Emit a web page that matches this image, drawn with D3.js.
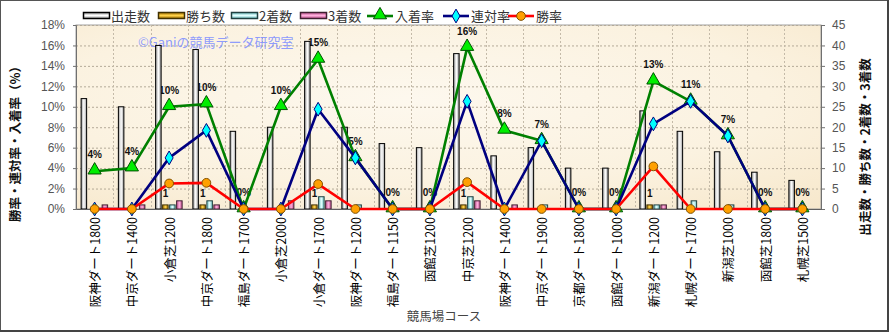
<!DOCTYPE html>
<html>
<head>
<meta charset="utf-8">
<script src="https://cdn.jsdelivr.net/npm/d3@7"></script>
<style>
  html, body { margin: 0; padding: 0; background: #fff; }
  svg { display: block; }
  text { font-family: "Liberation Sans", "Noto Sans CJK JP", sans-serif; }
  .jp { font-family: "Noto Sans CJK JP", "Liberation Sans", sans-serif; }
</style>
</head>
<body>
<svg id="chart" width="889" height="332"></svg>
<script>
// Course names
const categories = [
  "阪神ダート1800", "中京ダート1400", "小倉芝1200", "中京ダート1800", "福島ダート1700",
  "小倉芝2000", "小倉ダート1700", "阪神ダート1200", "福島ダート1150", "函館芝1200",
  "中京芝1200", "阪神ダート1400", "中京ダート1900", "京都ダート1800", "函館ダート1000",
  "新潟ダート1200", "札幌ダート1700", "新潟芝1000", "函館芝1800", "札幌芝1500"
];
// Counts (right axis)
const starts  = [27, 25, 40, 39, 19, 20, 41, 20, 16, 15, 38, 13, 15, 10, 10, 24, 19, 14, 9, 7];
const wins    = [0, 0, 1, 1, 0, 0, 1, 0, 0, 0, 1, 0, 0, 0, 0, 1, 0, 0, 0, 0];
const seconds = [0, 0, 1, 2, 0, 0, 3, 1, 0, 0, 3, 0, 1, 0, 0, 1, 2, 1, 0, 0];
const thirds  = [1, 1, 2, 1, 0, 2, 2, 0, 0, 0, 2, 1, 0, 0, 0, 1, 0, 0, 0, 0];
// Rates in % (left axis)
const placeRate    = [3.7, 4, 10, 10.26, 0, 10, 14.63, 5, 0, 0, 15.79, 7.69, 6.67, 0, 0, 12.5, 10.53, 7.14, 0, 0];
const quinellaRate = [0, 0, 5, 7.69, 0, 0, 9.76, 5, 0, 0, 10.53, 0, 6.67, 0, 0, 8.33, 10.53, 7.14, 0, 0];
const winRate      = [0, 0, 2.5, 2.56, 0, 0, 2.44, 0, 0, 0, 2.63, 0, 0, 0, 0, 4.17, 0, 0, 0, 0];
// Axis ticks
const pctTicks = [0, 2, 4, 6, 8, 10, 12, 14, 16, 18];
const cntTicks = [0, 5, 10, 15, 20, 25, 30, 35, 40, 45];

const svg = d3.select("#chart");
const L = 76, R = 821, T = 25, B = 209;

const x = d3.scaleBand().domain(categories).range([L, R]).paddingInner(0).paddingOuter(0);
const yPct = d3.scaleLinear().domain([0, 18]).range([B, T]);
const yCnt = d3.scaleLinear().domain([0, 45]).range([B, T]);

const defs = svg.append("defs");

// Parchment-like plot background
const bg = defs.append("radialGradient").attr("id", "paper").attr("cx", "45%").attr("cy", "40%").attr("r", "80%");
bg.append("stop").attr("offset", "0%").attr("stop-color", "#fdf8ee");
bg.append("stop").attr("offset", "60%").attr("stop-color", "#fbf2e0");
bg.append("stop").attr("offset", "100%").attr("stop-color", "#f7e8cc");

function barGrad(id, edge, mid) {
  const g = defs.append("linearGradient").attr("id", id).attr("x1", "0%").attr("x2", "100%");
  g.append("stop").attr("offset", "0%").attr("stop-color", edge);
  g.append("stop").attr("offset", "50%").attr("stop-color", mid);
  g.append("stop").attr("offset", "100%").attr("stop-color", edge);
}
barGrad("gStart", "#9a9a9a", "#ffffff");
barGrad("gWin", "#a07000", "#ffd24a");
barGrad("gSecond", "#6cc0c0", "#e4ffff");
barGrad("gThird", "#c05090", "#ffb0dc");

// Outer frame
svg.append("rect").attr("x", 0.5).attr("y", 0.5).attr("width", 887).attr("height", 330)
  .attr("fill", "#fff").attr("stroke", "#555").attr("stroke-width", 1);
svg.append("line").attr("x1", 0).attr("x2", 889).attr("y1", 331).attr("y2", 331).attr("stroke", "#444").attr("stroke-width", 2);
svg.append("line").attr("x1", 888).attr("x2", 888).attr("y1", 0).attr("y2", 332).attr("stroke", "#444").attr("stroke-width", 2);

// Plot area
svg.append("rect").attr("x", L).attr("y", T).attr("width", R - L).attr("height", B - T)
  .attr("fill", "url(#paper)").attr("stroke", "#a0a0a0");

// Grid lines
svg.append("g").selectAll("line").data(pctTicks.slice(1)).join("line")
  .attr("x1", L).attr("x2", R).attr("y1", d => yPct(d) + 0.5).attr("y2", d => yPct(d) + 0.5)
  .attr("stroke", "#b4aa98").attr("stroke-dasharray", "2,2");
svg.append("g").selectAll("line").data(categories.slice(1)).join("line")
  .attr("x1", d => Math.round(x(d)) + 0.5).attr("x2", d => Math.round(x(d)) + 0.5)
  .attr("y1", T).attr("y2", B)
  .attr("stroke", "#c4baa8").attr("stroke-dasharray", "2,2");

// Watermark
svg.append("text").attr("class", "jp").attr("x", 138).attr("y", 47)
  .attr("font-size", 13).attr("fill", "#8090ff").attr("fill-opacity", 0.9)
  .text("©Ganiの競馬データ研究室");

// Place-rate labels (drawn under the bars)
const fmtPct = d3.format(".0f");
svg.append("g").selectAll("text").data(placeRate).join("text")
  .attr("x", (d, i) => x(categories[i]) + x.bandwidth() / 2)
  .attr("y", d => yPct(d) - 13)
  .attr("text-anchor", "middle").attr("font-size", 10).attr("font-weight", "bold")
  .attr("fill", "#111")
  .text(d => fmtPct(d) + "%");

// Win-count labels
svg.append("g").selectAll("text").data(wins.map((v, i) => ({ v, i })).filter(d => d.v > 0)).join("text")
  .attr("x", d => x(categories[d.i]) + x.bandwidth() / 2 - 3.5)
  .attr("y", d => yCnt(d.v) - 8)
  .attr("text-anchor", "middle").attr("font-size", 10).attr("font-weight", "bold").attr("fill", "#111")
  .text(d => d.v);

// Bars
const barW = 7;
const countSeries = [
  { values: starts, fill: "url(#gStart)", stroke: "#000" },
  { values: wins, fill: "url(#gWin)", stroke: "#403000" },
  { values: seconds, fill: "url(#gSecond)", stroke: "#204040" },
  { values: thirds, fill: "url(#gThird)", stroke: "#402030" }
];
const groupW = barW * countSeries.length;
countSeries.forEach((s, k) => {
  svg.append("g").selectAll("rect")
    .data(s.values.map((v, i) => ({ v, i })).filter(d => d.v > 0)).join("rect")
    .attr("x", d => x(categories[d.i]) + (x.bandwidth() - groupW) / 2 + k * barW + 0.5)
    .attr("y", d => yCnt(d.v))
    .attr("width", barW - 1.5)
    .attr("height", d => B - yCnt(d.v))
    .attr("fill", s.fill).attr("stroke", s.stroke).attr("stroke-width", 1);
});

// Axes
const leftAxis = d3.axisLeft(yPct).tickValues(pctTicks).tickFormat(d => d + "%").tickSize(3).tickPadding(8);
const gl = svg.append("g").attr("transform", `translate(${L},0)`).call(leftAxis);
const rightAxis = d3.axisRight(yCnt).tickValues(cntTicks).tickSize(4).tickPadding(7);
const gr = svg.append("g").attr("transform", `translate(${R},0)`).call(rightAxis);
[gl, gr].forEach(g => {
  g.select(".domain").attr("stroke", "#707070");
  g.selectAll(".tick line").attr("stroke", "#707070");
  g.selectAll(".tick text").attr("font-size", 12).attr("fill", "#555")
    .attr("font-family", "'Liberation Sans', sans-serif");
});
const bottomAxis = d3.axisBottom(x).tickSize(0).tickPadding(0);
const gb = svg.append("g").attr("transform", `translate(0,${B})`).call(bottomAxis);
gb.select(".domain").attr("stroke", "#606060");
gb.selectAll(".tick text")
  .attr("class", "jp")
  .attr("font-size", 12.5).attr("fill", "#000")
  .attr("transform", "rotate(-90)")
  .attr("text-anchor", "end").attr("dominant-baseline", "central")
  .attr("x", -8).attr("y", 0).attr("dy", null);

// Rate lines
const rateSeries = [
  { values: placeRate, color: "#008000", marker: "triangle", fill: "#00ee00", mstroke: "#005000" },
  { values: quinellaRate, color: "#000080", marker: "diamond", fill: "#00ffff", mstroke: "#000080" },
  { values: winRate, color: "#ff0000", marker: "circle", fill: "#ffa000", mstroke: "#805000" }
];
const symbolOf = { triangle: d3.symbolTriangle, diamond: d3.symbolDiamond, circle: d3.symbolCircle };
const sizeOf = { triangle: 75, diamond: 55, circle: 60 };
rateSeries.forEach(s => {
  const line = d3.line()
    .x((d, i) => x(categories[i]) + x.bandwidth() / 2)
    .y(d => yPct(d));
  svg.append("path").datum(s.values).attr("d", line)
    .attr("fill", "none").attr("stroke", s.color).attr("stroke-width", 2.6)
    .attr("stroke-linejoin", "round");
  svg.append("g").selectAll("path").data(s.values).join("path")
    .attr("transform", (d, i) => `translate(${x(categories[i]) + x.bandwidth() / 2},${yPct(d) + (s.marker === "triangle" ? -1 : 0)})`)
    .attr("d", d3.symbol().type(symbolOf[s.marker]).size(sizeOf[s.marker]))
    .attr("fill", s.fill).attr("stroke", s.mstroke).attr("stroke-width", 1);
});

// Axis titles
svg.append("text").attr("class", "jp")
  .attr("transform", "translate(20,141) rotate(-90)")
  .attr("text-anchor", "middle").attr("font-size", 12.5).attr("font-weight", "bold").attr("fill", "#111")
  .text("勝率・連対率・入着率（%）");
svg.append("text").attr("class", "jp")
  .attr("transform", "translate(870,147) rotate(-90)")
  .attr("text-anchor", "middle").attr("font-size", 12.5).attr("font-weight", "bold").attr("fill", "#111")
  .text("出走数・勝ち数・2着数・3着数");
svg.append("text").attr("class", "jp")
  .attr("x", 444).attr("y", 321).attr("text-anchor", "middle")
  .attr("font-size", 12.5).attr("fill", "#444")
  .text("競馬場コース");

// Legend
const legend = [
  { label: "出走数", type: "bar", fill: "url(#gStart)", stroke: "#000", x: 83 },
  { label: "勝ち数", type: "bar", fill: "url(#gWin)", stroke: "#403000", x: 158 },
  { label: "2着数", type: "bar", fill: "url(#gSecond)", stroke: "#204040", x: 231 },
  { label: "3着数", type: "bar", fill: "url(#gThird)", stroke: "#402030", x: 300 },
  { label: "入着率", type: "line", s: rateSeries[0], x: 367 },
  { label: "連対率", type: "line", s: rateSeries[1], x: 443 },
  { label: "勝率", type: "line", s: rateSeries[2], x: 508 }
];
const lg = svg.append("g");
legend.forEach(d => {
  const yc = 16;
  if (d.type === "bar") {
    const lgId = "lg" + d.x;
    const g = defs.append("linearGradient").attr("id", lgId).attr("x1", "0%").attr("x2", "0%").attr("y1", "0%").attr("y2", "100%");
    const src = d.fill.match(/#(\w+)/)[1];
    d3.select("#" + src).selectAll("stop").each(function () {
      g.append("stop").attr("offset", d3.select(this).attr("offset")).attr("stop-color", d3.select(this).attr("stop-color"));
    });
    lg.append("rect").attr("x", d.x + 0.5).attr("y", yc - 3.5).attr("width", 26).attr("height", 6)
      .attr("fill", `url(#${lgId})`).attr("stroke", d.stroke).attr("stroke-width", 1.5);
  } else {
    lg.append("line").attr("x1", d.x).attr("x2", d.x + 26).attr("y1", yc).attr("y2", yc)
      .attr("stroke", d.s.color).attr("stroke-width", 2.6);
    lg.append("path").attr("transform", `translate(${d.x + 13},${yc + (d.s.marker === "triangle" ? -1 : 0)})`)
      .attr("d", d3.symbol().type(symbolOf[d.s.marker]).size(sizeOf[d.s.marker]))
      .attr("fill", d.s.fill).attr("stroke", d.s.mstroke);
  }
  lg.append("text").attr("class", "jp").attr("x", d.x + 28).attr("y", yc + 4.5)
    .attr("font-size", 13).attr("fill", "#333").text(d.label);
});
</script>
</body>
</html>
